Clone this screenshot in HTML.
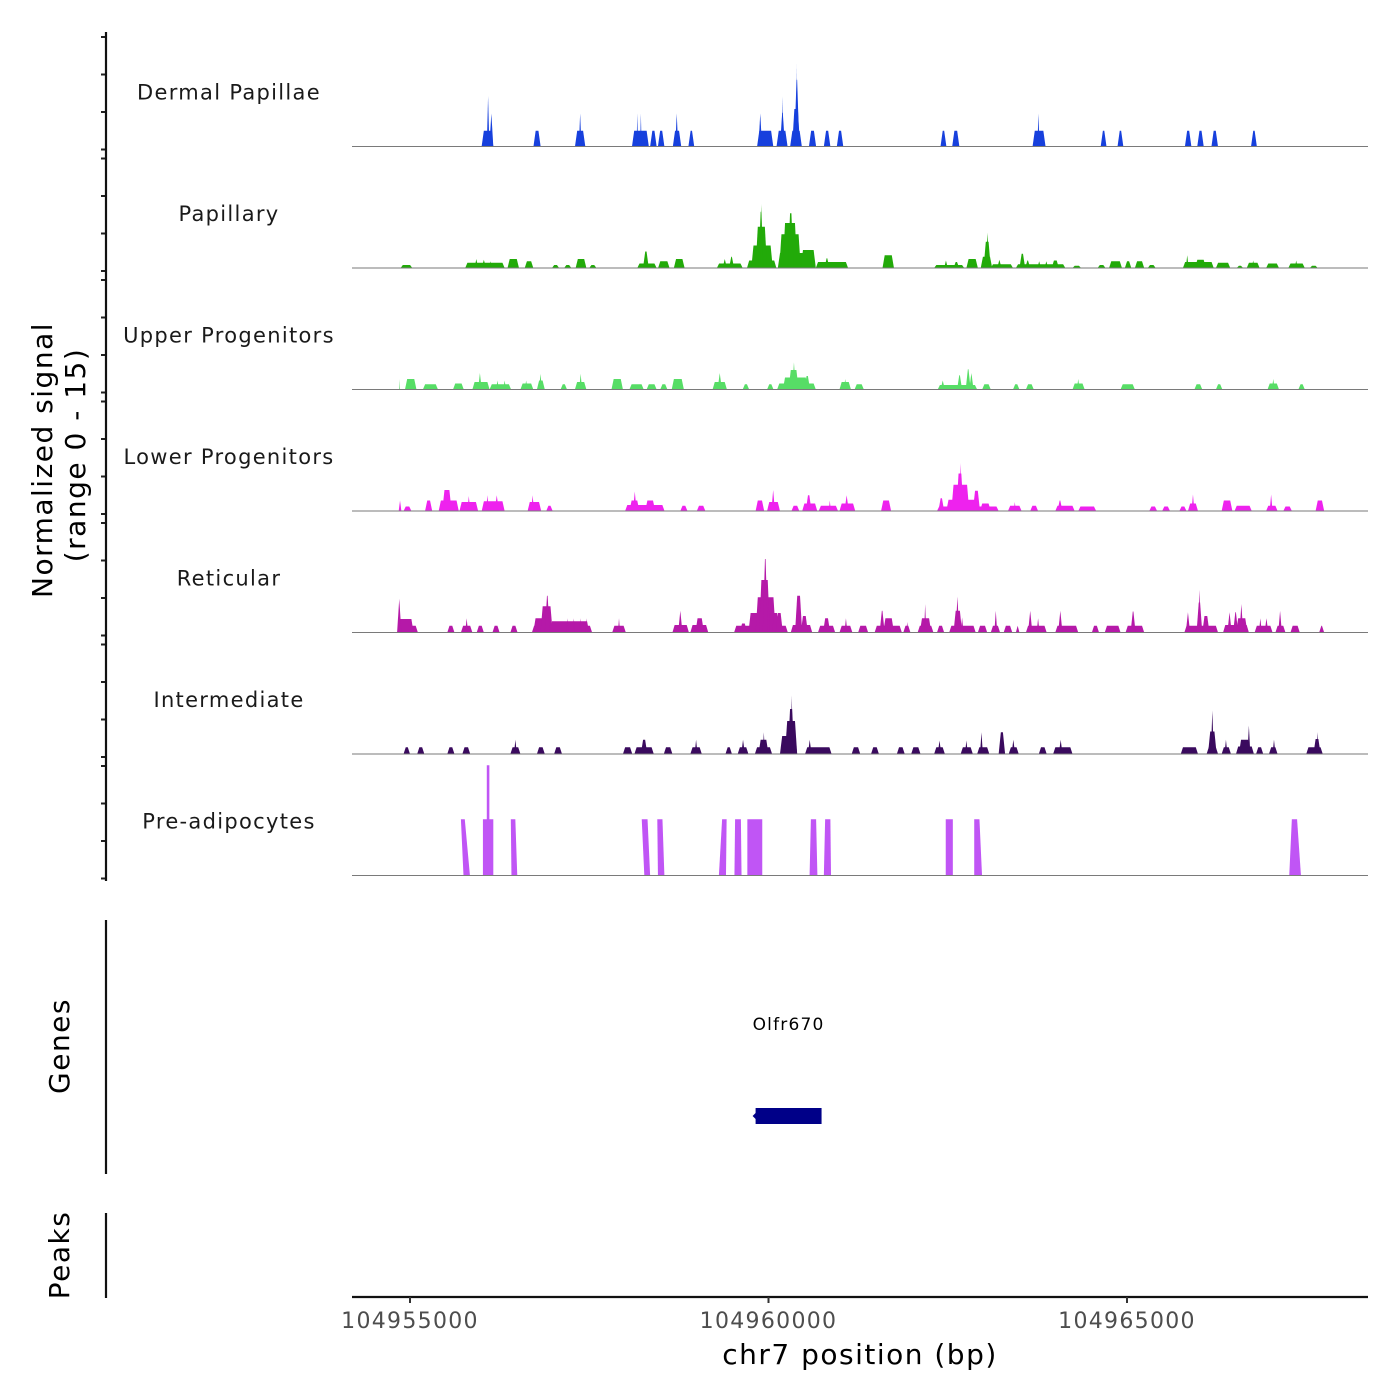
<!DOCTYPE html>
<html><head><meta charset="utf-8"><title>Coverage plot</title>
<style>
html,body{margin:0;padding:0;background:#fff;}
svg{display:block;font-family:"DejaVu Sans","Liberation Sans",sans-serif;}
</style></head>
<body>
<svg id="chart" width="1400" height="1400" viewBox="0 0 1400 1400" xmlns="http://www.w3.org/2000/svg">
<rect x="0" y="0" width="1400" height="1400" fill="#fff"/>
<g id="tracks"></g>
<g id="axes"></g>
</svg>
<script>
// ---- data (positions in kb relative to 104955000, heights = normalized signal 0-15) ----
const REGION_START = 104955000;
const regionKb = [-0.81, 13.36];
const trackNames = ["Dermal Papillae","Papillary","Upper Progenitors","Lower Progenitors","Reticular","Intermediate","Pre-adipocytes"];
const trackColors = ["#1740dd","#22aa09","#57dd66","#ee22ee","#b519a8","#3a0a5e","#c055f5"];
const xTicks = [104955000, 104960000, 104965000];
const geneName = ["Olfr670"];
const geneStartKb = [4.82];
const geneEndKb = [5.74];

const dermal = [[0.999,1.162,2.1],[1.071,1.107,6.7],[1.107,1.162,4.4],[1.722,1.822,2.1],[2.301,2.445,2.1],[2.355,2.391,4.4],
[3.096,3.331,2.1],[3.16,3.18,4.4],[3.21,3.23,4.4],[3.349,3.440,2.1],[3.458,3.548,2.1],[3.666,3.783,2.1],[3.70,3.74,4.4],
[3.883,3.964,2.1],[4.841,5.067,2.1],[4.86,4.91,4.4],[5.112,5.266,2.1],[5.16,5.23,4.5],[5.185,5.205,6.7],
[5.302,5.465,2.1],[5.33,5.44,5],[5.36,5.43,8.9],[5.385,5.40,11],[5.564,5.664,2.1],[5.772,5.863,2.1],[5.953,6.043,2.1],
[7.399,7.481,2.1],[7.562,7.662,2.1],[8.683,8.864,2.1],[8.75,8.78,4.4],[9.633,9.714,2.1],[9.868,9.949,2.1],
[10.808,10.898,2.1],[10.980,11.070,2.1],[11.178,11.269,2.1],[11.730,11.811,2.1]];

const papillary = [[-0.131,0.032,0.4],[0.77,1.32,0.7],[0.90,0.95,1.2],[1.00,1.06,1.1],[1.10,1.14,0.9],[1.36,1.52,1.2],[1.60,1.72,0.9],
[1.98,2.08,0.4],[2.15,2.25,0.4],[2.31,2.46,1.2],[2.50,2.60,0.4],[3.17,3.44,0.6],[3.25,3.33,2.2],[3.46,3.62,0.9],[3.68,3.83,1.2],
[4.28,4.64,0.6],[4.36,4.42,1.2],[4.45,4.52,1.5],[4.70,5.11,1.0],[4.76,5.06,3],[4.82,4.98,5.5],[4.86,4.93,7.5],[4.88,4.92,8.5],
[5.13,5.61,2],[5.15,5.45,4.5],[5.20,5.40,6],[5.27,5.35,7.3],[5.45,5.66,2.4],[5.66,6.11,0.8],[5.78,5.85,1.3],[6.59,6.75,1.7],
[7.31,7.73,0.4],[7.45,7.50,1.0],[7.58,7.66,0.8],[7.76,7.92,1.2],[7.96,8.12,1.5],[8.00,8.10,3.5],[8.03,8.08,4.7],[8.10,8.41,0.5],[8.19,8.25,1.1],
[8.45,9.14,0.5],[8.50,8.58,1.9],[8.58,8.65,1.0],[8.75,8.80,0.9],[8.85,8.90,0.9],[8.95,9.05,1.0],[9.24,9.36,0.3],
[9.59,9.70,0.4],[9.75,9.93,0.9],[9.97,10.06,0.9],[10.11,10.24,0.9],[10.29,10.40,0.4],[10.78,11.21,0.8],[10.82,10.86,1.7],[10.95,11.10,1.1],
[11.24,11.44,0.7],[11.53,11.62,0.3],[11.67,11.85,0.7],[11.74,11.78,1.0],[11.94,12.12,0.6],[12.25,12.48,0.6],[12.34,12.38,1.0],[12.55,12.66,0.3]];

const upper = [[-0.15,-0.14,1.4],[-0.07,0.09,1.4],[0.18,0.39,0.7],[0.60,0.75,0.8],[0.87,1.11,1.0],[0.95,1.00,2.2],[1.11,1.41,0.7],[1.20,1.24,1.2],[1.30,1.34,1.2],
[1.54,1.72,0.8],[1.60,1.64,1.2],[1.77,1.88,1.2],[1.80,1.84,2.1],[2.10,2.19,0.7],[2.30,2.46,1.0],[2.36,2.40,2.1],[2.81,2.97,1.4],
[3.06,3.26,0.7],[3.30,3.44,0.7],[3.49,3.59,0.7],[3.65,3.82,1.4],[4.22,4.42,1.0],[4.29,4.35,2.2],[4.64,4.73,0.7],[4.98,5.07,0.7],
[5.12,5.66,0.8],[5.20,5.55,1.6],[5.28,5.42,2.6],[5.33,5.38,3.6],[5.50,5.58,1.8],[5.99,6.15,1.0],[6.05,6.09,1.4],[6.20,6.33,0.7],
[7.36,7.91,0.6],[7.40,7.46,1.2],[7.63,7.70,1.9],[7.75,7.82,2.7],[7.80,7.86,2.2],[7.98,8.10,0.7],[8.41,8.50,0.7],[8.59,8.70,0.7],
[9.24,9.41,0.8],[9.30,9.34,1.4],[9.91,10.11,0.7],[10.94,11.05,0.7],[11.24,11.33,0.7],[11.96,12.12,0.8],[12.02,12.06,1.4],[12.39,12.48,0.7]];

const lower = [[-0.158,-0.12,1.4],[-0.09,0.02,0.6],[0.21,0.31,1.4],[0.40,0.68,1.4],[0.45,0.58,2.8],[0.69,0.95,1.2],[0.80,0.84,2.0],
[1.00,1.32,1.3],[1.06,1.10,2.1],[1.18,1.24,2.1],[1.64,1.83,1.2],[1.69,1.73,2.1],[1.90,1.99,0.7],[3.00,3.55,0.8],[3.06,3.20,1.4],[3.11,3.16,2.6],[3.28,3.42,1.4],
[3.77,3.87,0.7],[4.00,4.12,0.7],[4.82,4.94,1.4],[4.98,5.16,1.2],[5.04,5.09,2.8],[5.32,5.43,0.7],[5.47,5.68,1.0],[5.52,5.60,2.1],
[5.70,5.97,0.7],[5.84,5.87,1.4],[5.99,6.21,1.0],[6.06,6.12,2.1],[6.57,6.71,1.4],
[7.35,8.21,0.6],[7.37,7.45,1.7],[7.48,7.95,1.5],[7.55,7.80,3.5],[7.62,7.72,5],[7.66,7.70,6.4],[7.85,7.95,2.7],[7.95,8.10,1.0],
[8.34,8.53,0.7],[8.42,8.45,1.2],[8.65,8.76,0.7],[9.00,9.27,0.7],[9.03,9.10,1.4],[9.32,9.57,0.6],[10.31,10.42,0.6],[10.49,10.60,0.6],[10.73,10.83,0.6],
[10.85,10.99,1.0],[10.90,10.94,2.2],[11.32,11.47,1.4],[11.50,11.74,0.7],[11.94,12.10,0.7],[11.99,12.03,2.2],[12.18,12.30,0.6],[12.63,12.75,1.4]];

const reticular = [[-0.18,0.11,0.9],[-0.17,0.05,1.8],[-0.18,-0.12,4.5],[0.52,0.62,0.9],[0.71,0.87,0.9],[0.77,0.81,1.9],[0.93,1.03,0.9],[1.15,1.25,0.9],[1.40,1.50,0.9],
[1.70,2.54,0.9],[1.72,1.95,1.9],[1.82,1.99,3.5],[1.88,1.95,4.9],[1.95,2.50,1.5],[2.18,2.21,1.9],[2.27,2.30,1.9],[2.36,2.39,1.9],[2.45,2.48,1.9],
[2.82,3.01,0.9],[2.90,2.93,1.9],[3.66,3.89,1.0],[3.74,3.80,2.9],[3.91,4.16,1.0],[3.98,4.10,1.9],
[4.52,5.27,0.9],[4.60,4.70,1.2],[4.72,5.12,2.6],[4.82,5.10,4.7],[4.87,5.02,7],[4.92,4.99,9.8],[5.05,5.15,2.6],[5.10,5.20,2.6],
[5.31,5.61,1],[5.37,5.47,4.9],[5.45,5.55,2.2],[5.69,5.93,0.9],[5.76,5.86,1.9],[5.99,6.17,0.9],[6.06,6.10,1.9],[6.25,6.39,0.9],
[6.48,6.86,0.9],[6.55,6.62,2.9],[6.60,6.75,1.9],[6.88,6.98,0.9],[6.92,6.95,1.4],[7.08,7.30,0.9],[7.11,7.27,1.9],[7.17,7.20,3.8],[7.35,7.45,0.9],
[7.52,7.89,0.9],[7.58,7.70,2.9],[7.61,7.66,4.8],[7.68,7.72,2.0],[7.92,8.05,0.9],[8.10,8.23,0.9],[8.15,8.19,2.9],[8.28,8.40,0.9],[8.45,8.50,0.9],
[8.59,8.88,0.9],[8.62,8.68,2.9],[8.74,8.78,1.9],[9.00,9.32,0.9],[9.04,9.10,2.9],[9.51,9.61,0.9],[9.69,9.91,0.9],[9.98,10.24,0.9],[10.05,10.12,2.8],
[10.80,11.27,0.9],[10.82,10.88,2.7],[10.97,11.05,4],[10.99,11.03,5.7],[11.05,11.15,2.2],[11.34,11.70,1.0],[11.40,11.46,2.7],[11.48,11.55,2.7],[11.57,11.62,3.8],[11.52,11.68,1.9],
[11.78,12.03,0.9],[11.84,11.88,1.9],[11.92,11.97,1.9],[12.07,12.21,0.9],[12.11,12.16,2.9],[12.28,12.41,0.9],[12.68,12.75,0.9]];

const intermediate = [[-0.09,0.00,0.9],[0.10,0.20,0.9],[0.52,0.62,0.9],[0.73,0.84,0.9],[1.40,1.54,0.9],[1.45,1.49,1.9],[1.77,1.88,0.9],[2.01,2.12,0.9],
[2.97,3.10,0.9],[3.13,3.40,0.9],[3.22,3.31,1.9],[3.54,3.66,0.9],[3.91,4.07,0.9],[3.97,4.01,1.9],[4.40,4.49,0.9],[4.57,4.72,0.9],[4.62,4.67,1.9],
[4.81,5.05,0.9],[4.86,5.00,1.9],[4.92,4.95,2.9],[5.16,5.40,2.4],[5.23,5.40,4.4],[5.27,5.36,6],[5.31,5.34,7.8],[5.51,5.88,0.9],[5.55,5.60,1.9],
[6.16,6.28,0.9],[6.43,6.54,0.9],[6.79,6.90,0.9],[6.99,7.12,0.9],[7.31,7.46,0.9],[7.36,7.41,1.8],[7.68,7.85,0.9],[7.74,7.78,1.8],
[7.91,8.08,0.9],[7.95,7.99,2.9],[8.21,8.30,2.9],[8.35,8.49,0.9],[8.39,8.44,1.9],[8.77,8.88,0.9],[8.97,9.24,0.9],[9.05,9.10,1.9],
[10.75,10.99,0.9],[11.11,11.27,0.9],[11.13,11.25,3],[11.17,11.21,5.8],[11.32,11.45,0.9],[11.36,11.40,1.9],[11.52,11.77,1.0],[11.56,11.72,1.9],[11.68,11.72,3.8],
[11.80,11.90,0.9],[11.98,12.10,0.9],[12.03,12.07,1.9],[12.50,12.73,0.9],[12.60,12.70,2.0],[12.64,12.67,2.9]];

// pre-adipocytes: [bottomStart, topStart, topEnd, bottomEnd, height]
const preadip = [[0.746,0.710,0.764,0.836,7.5],[1.017,1.017,1.162,1.162,7.5],[1.071,1.071,1.107,1.107,14.7],[1.415,1.406,1.469,1.496,7.5],
[3.268,3.232,3.313,3.349,7.5],[3.458,3.449,3.521,3.548,7.5],[4.308,4.353,4.416,4.407,7.5],[4.525,4.534,4.615,4.624,7.5],
[4.705,4.705,4.913,4.913,7.5],[5.573,5.591,5.664,5.682,7.5],[5.772,5.790,5.863,5.872,7.5],[7.472,7.472,7.571,7.571,7.5],
[7.869,7.869,7.942,7.978,7.5],[12.263,12.299,12.372,12.426,7.5]];

const trackData = [dermal, papillary, upper, lower, reticular, intermediate];

// ---- layout ----
const NS = "http://www.w3.org/2000/svg";
const PLOT_L = 352, PLOT_R = 1368;
const TRACK_TOP = 25, TRACK_H = 121.5;
const PX_PER_UNIT = 7.5;
function xs(kb){ return 410 + kb * (358.5/5); }
function ys(track, v){ return TRACK_TOP + (track+1)*TRACK_H - v*PX_PER_UNIT; }
function mk(tag, attrs, parent){ const e=document.createElementNS(NS,tag); for(const k in attrs) e.setAttribute(k, attrs[k]); parent.appendChild(e); return e; }

const tracksG = document.getElementById('tracks');
const axesG = document.getElementById('axes');

for (let t=0; t<7; t++){
  const g = mk('g', {}, tracksG);
  
  
  const base = ys(t, 0);
  if (t < 6){
    const arr = trackData[t];
    for (const p of arr){
      const x0 = xs(p[0]), x1 = xs(p[1]);
      const s = Math.min(2.2, (x1-x0)/2);
      const yt = ys(t, p[2]);
      const poly = mk('polygon', {points: `${x0},${base} ${x0+s},${yt} ${x1-s},${yt} ${x1},${base}`, fill: trackColors[t]}, g);
      
      
    }
  } else {
    for (const p of preadip){
      const yt = ys(t, p[4]);
      const poly = mk('polygon', {points: `${xs(p[0])},${base} ${xs(p[1])},${yt} ${xs(p[2])},${yt} ${xs(p[3])},${base}`, fill: trackColors[t]}, g);
      
      
    }
  }
  const bl = mk('line', {x1: PLOT_L, x2: PLOT_R, y1: base, y2: base, stroke: '#7a7a7a', 'stroke-width': 1}, g);
  
  
  const lab = mk('text', {x: 229, y: base - 47, 'text-anchor': 'middle', 'font-size': 21, fill: '#1a1a1a', 'letter-spacing': '1.3'}, g);
  lab.textContent = trackNames[t];
  
  
  for (let k=0; k<4; k++){
    const ty = base + 3 - k*37.5;
    const tk = mk('line', {x1: 101, x2: 106, y1: ty, y2: ty, stroke: '#222', 'stroke-width': 2}, axesG);
    
    
  }
}

// left signal axis
let e;
e = mk('line', {x1:106, x2:106, y1:32, y2:881, stroke:'#111', 'stroke-width':2.2}, axesG);


e = mk('text', {x:0, y:0, transform:'translate(52,460) rotate(-90)', 'text-anchor':'middle', 'font-size':28, fill:'#000', 'letter-spacing':'1.5'}, axesG);
e.textContent = 'Normalized signal';


e = mk('text', {x:0, y:0, transform:'translate(85,455) rotate(-90)', 'text-anchor':'middle', 'font-size':28, fill:'#000', 'letter-spacing':'1.5'}, axesG);
e.textContent = '(range 0 - 15)';



// genes panel
e = mk('line', {x1:106, x2:106, y1:920, y2:1174, stroke:'#111', 'stroke-width':2.2}, axesG);


e = mk('text', {x:0, y:0, transform:'translate(69,1046) rotate(-90)', 'text-anchor':'middle', 'font-size':28, fill:'#000', 'letter-spacing':'1.5'}, axesG);
e.textContent = 'Genes';


for (let i=0; i<geneName.length; i++){
  const gx0 = xs(geneStartKb[i]), gx1 = xs(geneEndKb[i]);
  e = mk('rect', {x: gx0, y: 1108, width: gx1-gx0, height: 16, fill: '#000088'}, axesG);
  
  
  e = mk('polygon', {points: `${gx0-3},1116 ${gx0+2},1111 ${gx0+2},1121`, fill:'#000088'}, axesG);
  
  
  e = mk('text', {x: (gx0+gx1)/2, y: 1030, 'text-anchor':'middle', 'font-size':17, fill:'#000', 'letter-spacing':'1.2'}, axesG);
  e.textContent = geneName[i];
  
  
}

// peaks panel
e = mk('line', {x1:106, x2:106, y1:1213, y2:1298, stroke:'#111', 'stroke-width':2.2}, axesG);


e = mk('text', {x:0, y:0, transform:'translate(69,1255) rotate(-90)', 'text-anchor':'middle', 'font-size':28, fill:'#000', 'letter-spacing':'1.5'}, axesG);
e.textContent = 'Peaks';



// x axis
e = mk('line', {x1:PLOT_L, x2:PLOT_R, y1:1297, y2:1297, stroke:'#111', 'stroke-width':2.2}, axesG);


for (const tv of xTicks){
  const tx = xs((tv - REGION_START)/1000);
  e = mk('line', {x1:tx, x2:tx, y1:1297, y2:1303, stroke:'#333', 'stroke-width':2}, axesG);
  
  
  e = mk('text', {x:tx, y:1328, 'text-anchor':'middle', 'font-size':22, fill:'#4d4d4d', 'letter-spacing':'1.3'}, axesG);
  e.textContent = String(tv);
  
  
}
e = mk('text', {x:860, y:1364, 'text-anchor':'middle', 'font-size':28, fill:'#000', 'letter-spacing':'1.5'}, axesG);
e.textContent = 'chr7 position (bp)';


</script>
</body></html>
